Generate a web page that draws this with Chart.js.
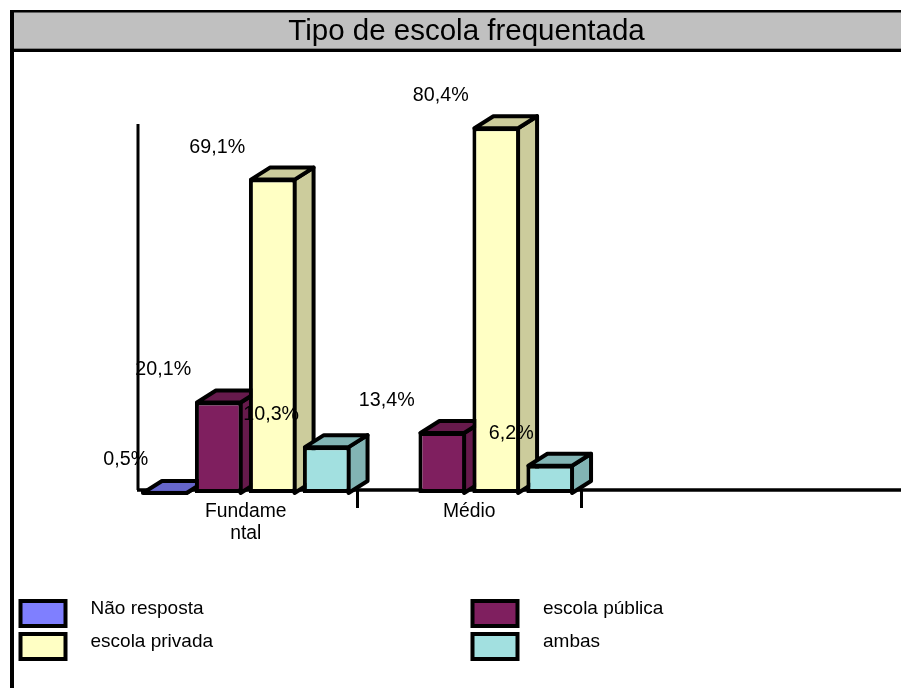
<!DOCTYPE html>
<html><head><meta charset="utf-8">
<style>html,body{margin:0;padding:0;background:#fff;overflow:hidden}canvas{display:block}</style>
<script src="https://cdn.jsdelivr.net/npm/chart.js@4"></script>
</head><body><canvas id="c" width="901" height="688"></canvas>
<script>
const chartTitle = 'Tipo de escola frequentada';
const categories = [['Fundame','ntal'], 'Médio'];
const seriesNames = ['Não resposta','escola pública','escola privada','ambas'];
const naoResposta = [0.5, null];
const escolaPublica = [20.1, 13.4];
const escolaPrivada = [69.1, 80.4];
const ambas = [10.3, 6.2];
const seriesValues = [naoResposta, escolaPublica, escolaPrivada, ambas];
const frontColors = ['#7f7fff','#7f1f5f','#ffffc4','#a2e0e0'];
const topColors = ['#6666cc','#661a4c','#cccc9c','#82b4b4'];
const font = 'Liberation Sans, Arial, sans-serif';
const DX = 19, DY = 12;

const scene = {
  id:'scene',
  beforeDraw(chart){
    const c = chart.ctx, W = chart.width, H = chart.height;
    c.save();
    c.fillStyle='#c0c0c0'; c.fillRect(13,12,W-13,37);
    c.fillStyle='#808080'; c.fillRect(13,48,W-13,1);
    c.fillStyle='#000';
    c.fillRect(13,10,W-13,2.5);
    c.fillRect(13,49,W-13,3);
    c.fillRect(10,10,4,H-10);
    c.font='29.5px '+font; c.textAlign='center'; c.textBaseline='middle';
    c.fillText(chartTitle,466.5,32);
    // legend
    c.textAlign='left'; c.font='19px '+font;
    const lx=[20.5,472.5], tx=[90.5,543], ly=[601,634];
    seriesNames.forEach((n,i)=>{
      const col=i%2,row=i>>1;
      c.fillStyle=frontColors[i]; c.strokeStyle='#000'; c.lineWidth=4;
      c.fillRect(lx[col],ly[row],45,25); c.strokeRect(lx[col],ly[row],45,25);
      c.fillStyle='#000'; c.fillText(n,tx[col],ly[row]+8);
    });
    c.restore();
  },
  beforeDatasetsDraw(chart){
    const c = chart.ctx, a = chart.chartArea, y = chart.scales.y;
    c.save();
    c.strokeStyle='#000'; c.lineWidth=3; c.lineCap='butt';
    c.beginPath(); c.moveTo(138,y.top); c.lineTo(138,a.bottom); c.stroke();
    c.lineWidth=3.5;
    c.beginPath(); c.moveTo(137,a.bottom); c.lineTo(chart.width,a.bottom); c.stroke();
    c.lineJoin='round';
    chart.data.datasets.forEach((ds,i)=>{
      chart.getDatasetMeta(i).data.forEach((bar,j)=>{
        if(ds.data[j]==null) return;
        const p=bar.getProps(['x','y','width','base'],true);
        const flat=Math.abs(p.base-p.y)<4;
        const l=p.x-p.width/2+2,r=p.x+p.width/2-2,t=flat?p.base:Math.min(p.y,p.base)+1,b=p.base;
        c.lineWidth=4;
        c.fillStyle=topColors[i];
        c.beginPath(); c.moveTo(r,t); c.lineTo(r+DX,t-DY); c.lineTo(r+DX,b-DY); c.lineTo(r,b); c.closePath(); c.fill(); c.stroke();
        c.beginPath(); c.moveTo(l,t); c.lineTo(l+DX,t-DY); c.lineTo(r+DX,t-DY); c.lineTo(r,t); c.closePath(); c.fill(); c.stroke();
      });
    });
    c.restore();
  },
  afterDatasetsDraw(chart){
    const c = chart.ctx;
    c.save();
    c.fillStyle='#000'; c.font='19.7px '+font; c.textAlign='center'; c.textBaseline='middle';
    chart.data.datasets.forEach((ds,i)=>{
      chart.getDatasetMeta(i).data.forEach((bar,j)=>{
        const v=ds.data[j];
        if(v==null) return;
        const base=bar.getProps(['base'],true).base;
        const yy=Math.min(bar.y,base);
        c.fillText(v.toFixed(1).replace('.',',')+'%', bar.x+(v<10?-39:-55.5), yy-31.5);
      });
    });
    c.restore();
  }
};

new Chart(document.getElementById('c'),{
  type:'bar',
  data:{labels:categories,datasets:seriesNames.map((n,i)=>({
    label:n,data:seriesValues[i],backgroundColor:frontColors[i],borderColor:'#000',borderWidth:4,borderSkipped:false,clip:false,
    categoryPercentage:0.966,barPercentage:0.883
  }))},
  options:{
    responsive:false,animation:false,
    layout:{padding:{left:134,right:320,top:124,bottom:98}},
    plugins:{legend:{display:false},title:{display:false},tooltip:{enabled:false}},
    scales:{
      x:{
        afterFit(s){s.height=100;},
        border:{display:false},
        grid:{drawOnChartArea:false,offset:true,tickLength:18,lineWidth:3,
          tickColor:ctx=>ctx.index===0?'transparent':'#000'},
        ticks:{color:'#000',font:{family:font,size:19.3,lineHeight:1.13},maxRotation:0,autoSkip:false,padding:-7}
      },
      y:{display:false,min:0.66,max:81.1}
    }
  },
  plugins:[scene]
});
</script></body></html>
